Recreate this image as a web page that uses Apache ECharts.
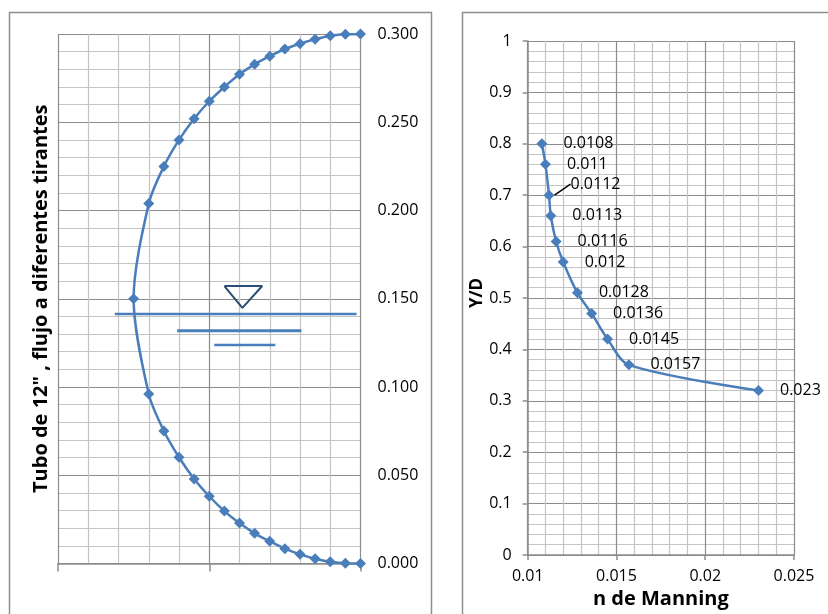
<!DOCTYPE html>
<html>
<head>
<meta charset="utf-8">
<script src="https://cdn.jsdelivr.net/npm/echarts@6/dist/echarts.min.js"></script>
<style>
html,body{margin:0;padding:0;background:#fff;}
#chart{width:828px;height:614px;}
</style>
</head>
<body>
<div id="chart"></div>
<script>
// ---- Left chart: pipe cross-section (12" pipe, flow at different depths)
const pipeX = [20,19,18,17,16,15,14,13,12,11,10,9,8,7,6,5,6,7,8,9,10,11,12,13,14,15,16,17,18,19,20];
const pipeDepth = [0.300,0.2998,0.2990,0.2970,0.2945,0.2915,0.2874,0.2828,0.2772,0.2700,0.2619,0.2520,0.2400,0.2250,0.2039,0.1500,
                   0.0960,0.0751,0.0602,0.0479,0.0381,0.0297,0.0229,0.0171,0.0126,0.0084,0.0052,0.0027,0.0010,0.0001,0.0000];
// water-surface symbol (triangle + three bars)
const triX = [11.0, 13.5, 12.19, 11.0];
const triY = [0.1572, 0.1572, 0.1448, 0.1572];
const bar1X = [3.75, 19.74], bar1Y = [0.1414, 0.1414];
const bar2X = [7.88, 16.09], bar2Y = [0.1319, 0.1319];
const bar3X = [10.33, 14.37], bar3Y = [0.1238, 0.1238];

// ---- Right chart: n de Manning vs Y/D
const manningN = [0.0108,0.011,0.0112,0.0113,0.0116,0.012,0.0128,0.0136,0.0145,0.0157,0.023];
const yOverD   = [0.80,0.76,0.70,0.66,0.61,0.57,0.51,0.47,0.42,0.37,0.32];
const nLabels  = ['0.0108','0.011','0.0112','0.0113','0.0116','0.012','0.0128','0.0136','0.0145','0.0157','0.023'];

const zip = (a, b) => a.map((v, i) => [v, b[i]]);

const FONT = 'Open Sans';
const BLUE = '#4A7EBB';
const MAJOR = '#8c8c8c';
const MINOR = '#c4c4c4';

const manningData = manningN.map((v, i) => ({
  value: [v, yOverD[i]],
  labelLine: { show: i === 2 }
}));

const chart = echarts.init(document.getElementById('chart'));
const option = {
  animation: false,
  backgroundColor: '#fff',
  textStyle: { fontFamily: FONT },
  graphic: [
    { type: 'rect', shape: { x: 9.5, y: 12.5, width: 422, height: 640 }, style: { fill: 'none', stroke: '#8e8e8e', lineWidth: 1.5 }, z: -1 },
    { type: 'rect', shape: { x: 462.5, y: 12.5, width: 420, height: 640 }, style: { fill: 'none', stroke: '#8e8e8e', lineWidth: 1.5 }, z: -1 }
  ],
  grid: [
    { left: 58, top: 34, width: 302.5, height: 529.5 },
    { left: 527.7, top: 41, width: 266.3, height: 514 }
  ],
  xAxis: [
    { gridIndex: 0, type: 'value', min: 0, max: 20, interval: 10,
      axisLine: { onZero: false, lineStyle: { color: MAJOR, width: 1.5 } },
      axisTick: { show: true, length: 8, lineStyle: { color: MAJOR, width: 1.5 } },
      axisLabel: { show: false },
      splitLine: { show: true, lineStyle: { color: MAJOR, width: 1.2 } },
      minorTick: { show: false, splitNumber: 5 },
      minorSplitLine: { show: true, lineStyle: { color: MINOR, width: 1.2 } } },
    { gridIndex: 1, type: 'value', min: 0.01, max: 0.025, interval: 0.005,
      name: 'n de Manning', nameLocation: 'middle', nameGap: 32,
      nameTextStyle: { fontFamily: FONT, fontWeight: 'bold', fontSize: 20, color: '#000' },
      axisLine: { onZero: false, lineStyle: { color: MAJOR, width: 1.5 } },
      axisTick: { show: true, length: 5, lineStyle: { color: MAJOR, width: 1.5 } },
      axisLabel: { color: '#000', fontSize: 16, fontFamily: FONT, margin: 13,
                   formatter: v => String(parseFloat(v.toFixed(4))) },
      splitLine: { show: true, lineStyle: { color: MAJOR, width: 1.2 } },
      minorTick: { show: false, splitNumber: 5 },
      minorSplitLine: { show: true, lineStyle: { color: MINOR, width: 1.2 } } }
  ],
  yAxis: [
    { gridIndex: 0, type: 'value', position: 'right', min: 0, max: 0.3, interval: 0.05,
      axisLine: { show: false },
      axisTick: { show: false },
      axisLabel: { color: '#000', fontSize: 16, fontFamily: FONT, margin: 17, formatter: v => v.toFixed(3) },
      splitLine: { show: true, lineStyle: { color: MAJOR, width: 1.2 } },
      minorTick: { show: false, splitNumber: 5 },
      minorSplitLine: { show: true, lineStyle: { color: MINOR, width: 1.2 } } },
    { gridIndex: 0, type: 'value', position: 'left', min: 0, max: 0.3, interval: 0.05,
      name: 'Tubo de 12" , flujo a diferentes tirantes', nameLocation: 'middle', nameGap: 7, nameRotate: 90,
      nameTextStyle: { fontFamily: FONT, fontWeight: 'bold', fontSize: 20, color: '#000' },
      axisLine: { show: false }, axisTick: { show: false }, axisLabel: { show: false }, splitLine: { show: false },
      minorTick: { show: false }, minorSplitLine: { show: false } },
    { gridIndex: 1, type: 'value', min: 0, max: 1, interval: 0.1,
      name: 'Y/D', nameLocation: 'middle', nameGap: 35, nameRotate: 90,
      nameTextStyle: { fontFamily: FONT, fontWeight: 'bold', fontSize: 17, color: '#000', padding: [0, 0, 0, 10] },
      axisLine: { show: true, lineStyle: { color: MAJOR, width: 1.5 } },
      axisTick: { show: true, length: 5, lineStyle: { color: MAJOR, width: 1.5 } },
      axisLabel: { color: '#000', fontSize: 16, fontFamily: FONT, margin: 16,
                   formatter: v => String(parseFloat(v.toFixed(2))) },
      splitLine: { show: true, lineStyle: { color: MAJOR, width: 1.2 } },
      minorTick: { show: false, splitNumber: 5 },
      minorSplitLine: { show: true, lineStyle: { color: MINOR, width: 1.2 } } }
  ],
  series: [
    { type: 'line', xAxisIndex: 0, yAxisIndex: 0, data: zip(pipeX, pipeDepth), smooth: 0.3,
      symbol: 'diamond', symbolSize: 11, lineStyle: { color: BLUE, width: 2.5 }, itemStyle: { color: BLUE }, z: 5 },
    { type: 'line', xAxisIndex: 0, yAxisIndex: 0, data: zip(triX, triY), symbol: 'none',
      lineStyle: { color: '#2C4D75', width: 2 }, z: 4 },
    { type: 'line', xAxisIndex: 0, yAxisIndex: 0, data: zip(bar1X, bar1Y), symbol: 'none',
      lineStyle: { color: BLUE, width: 2.5 }, z: 4 },
    { type: 'line', xAxisIndex: 0, yAxisIndex: 0, data: zip(bar2X, bar2Y), symbol: 'none',
      lineStyle: { color: BLUE, width: 3 }, z: 4 },
    { type: 'line', xAxisIndex: 0, yAxisIndex: 0, data: zip(bar3X, bar3Y), symbol: 'none',
      lineStyle: { color: BLUE, width: 2.5 }, z: 4 },
    { type: 'line', xAxisIndex: 1, yAxisIndex: 2, data: manningData, smooth: 0.3,
      symbol: 'diamond', symbolSize: 11, lineStyle: { color: BLUE, width: 2.5 }, itemStyle: { color: BLUE },
      label: { show: true, position: 'right', distance: 16, color: '#000', fontSize: 16, fontFamily: FONT,
               formatter: p => nLabels[p.dataIndex] },
      labelLine: { show: false, lineStyle: { color: '#000', width: 1.5 } },
      labelLayout: p => (p.dataIndex === 2 ? { dy: -11 } : {}),
      z: 5 }
  ]
};
chart.setOption(option);
</script>
</body>
</html>
